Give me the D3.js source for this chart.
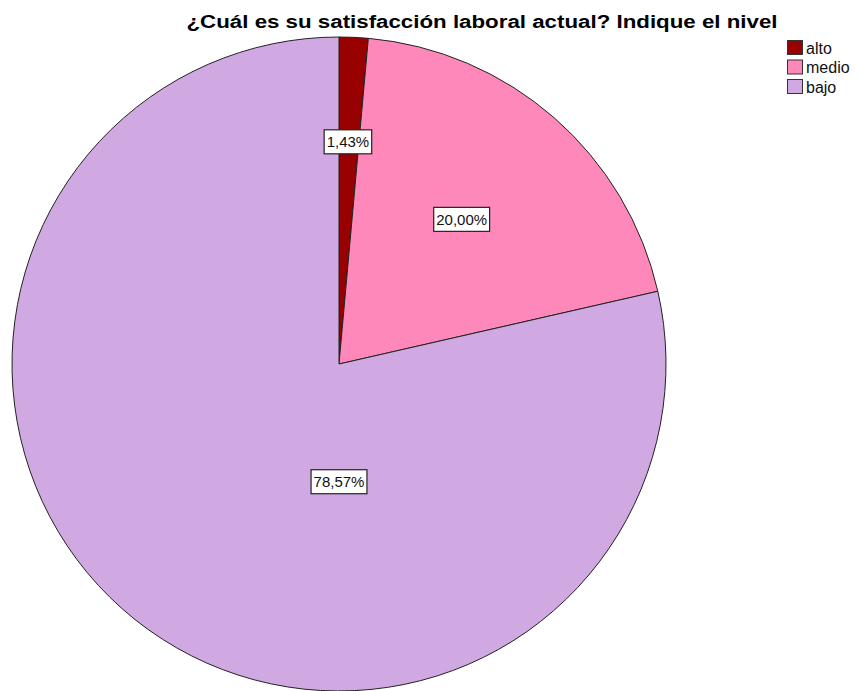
<!DOCTYPE html>
<html>
<head>
<meta charset="utf-8">
<script src="https://cdn.jsdelivr.net/npm/d3@7.9.0/dist/d3.min.js"></script>
<style>
  body { margin: 0; background: #fff; }
  svg { display: block; font-family: "Liberation Sans", Arial, sans-serif; }
</style>
</head>
<body>
<svg width="859" height="691"></svg>
<script>
const categories = ['alto', 'medio', 'bajo'];
const percents = [1.43, 20.00, 78.57];
const labels = ['1,43%', '20,00%', '78,57%'];
const colorList = ['#990000', '#ff88bb', '#d0a9e3'];
// where each slice label sits: [angle in degrees from top, fraction of radius]
const labelSpots = [[2.3, 0.68], [40.3, 0.58], [180, 0.36]];

const svg = d3.select('svg');
const cx = 339, cy = 364, radius = 327;

svg.append('text')
  .attr('x', 482)
  .attr('y', 28)
  .attr('text-anchor', 'middle')
  .attr('font-size', 18)
  .attr('font-weight', 'bold')
  .attr('textLength', 591)
  .attr('lengthAdjust', 'spacingAndGlyphs')
  .text('¿Cuál es su satisfacción laboral actual? Indique el nivel');

let colors = d3.scaleOrdinal().domain(categories).range(colorList);
let pie = d3.pie().sort(null).value((d) => d.value);
let data = categories.map((c, i) => ({ label: c, value: percents[i], text: labels[i] }));
let arcData = pie(data);
let arcGenerator = d3.arc().innerRadius(0).outerRadius(radius);

let g = svg.append('g').attr('transform', `translate(${cx},${cy})`);
g.selectAll('path')
  .data(arcData)
  .join('path')
  .attr('d', arcGenerator)
  .attr('fill', (d) => colors(d.data.label))
  .attr('stroke', '#222')
  .attr('stroke-width', 1)
  .attr('stroke-linejoin', 'round');

arcData.forEach((d, i) => {
  let [deg, frac] = labelSpots[i];
  let a = deg * Math.PI / 180;
  let x = Math.sin(a) * radius * frac;
  let y = -Math.cos(a) * radius * frac;
  let lg = g.append('g').attr('transform', `translate(${x},${y})`);
  let t = lg.append('text')
    .attr('text-anchor', 'middle')
    .attr('dy', '0.36em')
    .attr('font-size', 15)
    .attr('fill', '#111')
    .text(d.data.text);
  let bb = t.node().getBBox();
  lg.insert('rect', 'text')
    .attr('x', bb.x - 2.5)
    .attr('y', -12)
    .attr('width', bb.width + 5)
    .attr('height', 24)
    .attr('fill', '#fff')
    .attr('stroke', '#222')
    .attr('stroke-width', 1.2);
});

let legend = svg.append('g').attr('transform', 'translate(787,40)');
categories.forEach((c, i) => {
  let row = legend.append('g').attr('transform', `translate(0,${i * 19.5})`);
  row.append('rect')
    .attr('x', 0.5).attr('y', 0.5)
    .attr('width', 15).attr('height', 14)
    .attr('fill', colors(c))
    .attr('stroke', '#333');
  row.append('text')
    .attr('x', 19)
    .attr('y', 13.5)
    .attr('font-size', 16)
    .attr('fill', '#111')
    .text(c);
});
</script>
</body>
</html>
